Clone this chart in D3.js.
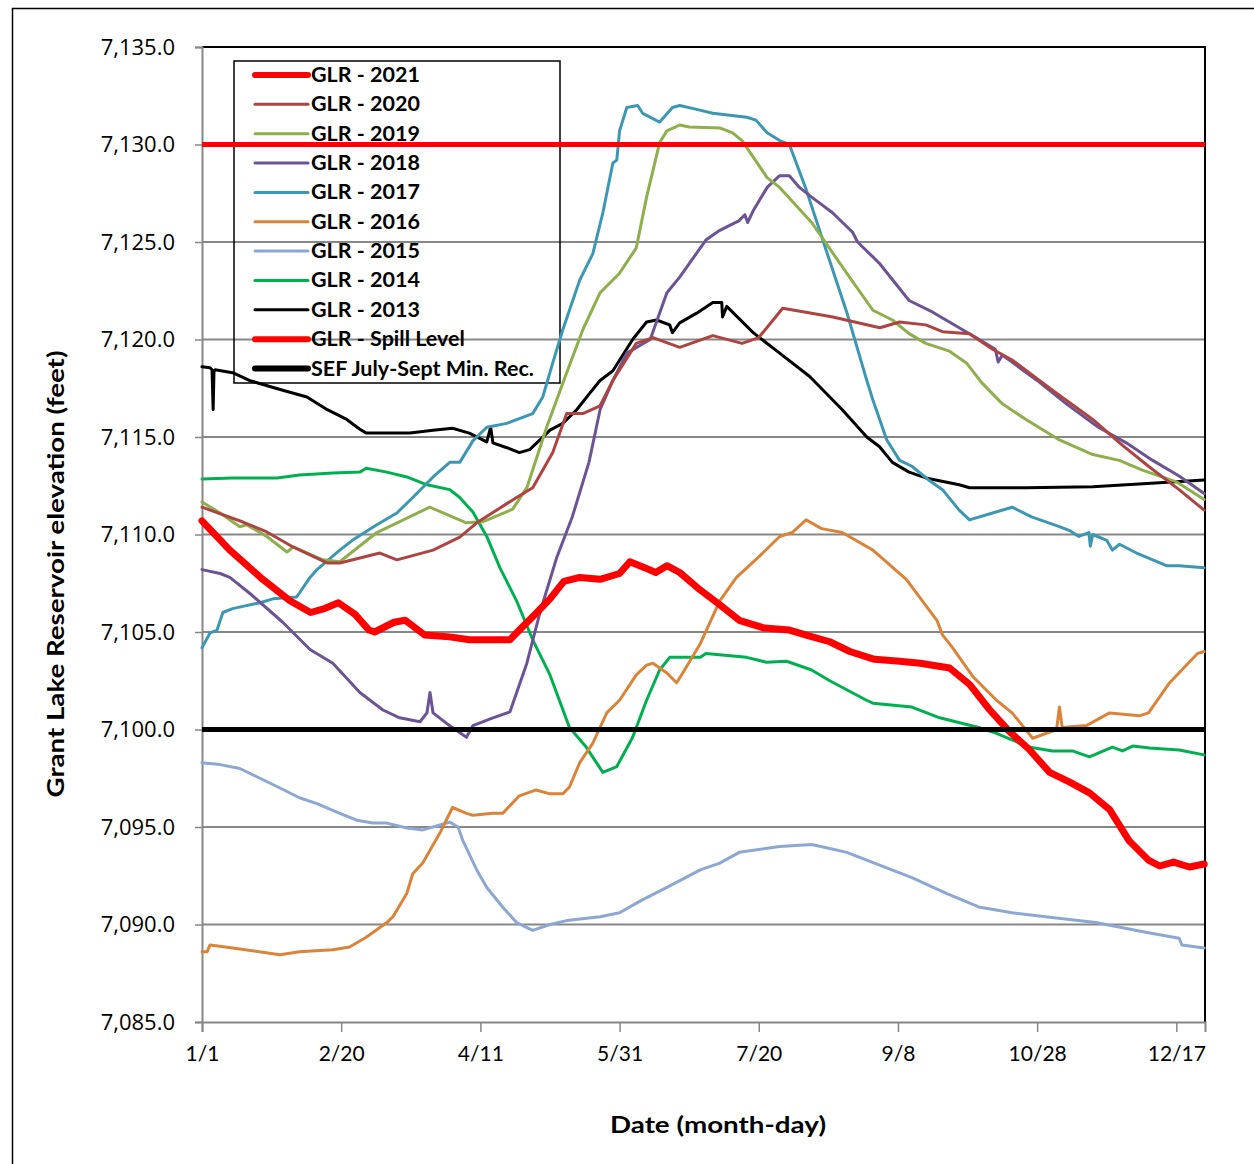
<!DOCTYPE html>
<html>
<head>
<meta charset="utf-8">
<script src="https://cdn.jsdelivr.net/npm/d3@7"></script>
<style>
  body { margin: 0; background: #fff; }
  svg { display: block; }
</style>
</head>
<body>
<svg id="chart" width="1254" height="1164"></svg>
<script>
'use strict';

// day of year (1/1 = 0) and lake elevation in feet
var glr2021 = [[0,7110.7],[10,7109.2],[21,7107.8],[31.6,7106.6],[39,7106.0],[44,7106.2],[49,7106.5],[55,7105.9],[60,7105.1],[62,7105.0],[69,7105.5],[73,7105.6],[80,7104.85],[89,7104.75],[96,7104.6],[103,7104.6],[110.6,7104.6],[114,7105.1],[119.6,7105.9],[125,7106.7],[130,7107.6],[135.7,7107.8],[143,7107.7],[150,7108.0],[153.7,7108.6],[159,7108.3],[163,7108.05],[167,7108.4],[171.6,7108.05],[179,7107.15],[186,7106.4],[193,7105.6],[202,7105.2],[211,7105.1],[218,7104.8],[225.5,7104.5],[232.7,7104.0],[241.6,7103.6],[250.6,7103.5],[258,7103.4],[268.6,7103.15],[275.8,7102.3],[283,7101.0],[290,7099.9],[297,7099.0],[304.5,7097.8],[311.7,7097.3],[318.8,7096.75],[326,7095.9],[333,7094.3],[340,7093.3],[344,7093.0],[349,7093.2],[354.7,7092.95],[360,7093.1]];

var glr2020 = [[0,7111.4],[14.7,7110.64],[23.3,7110.13],[32.7,7109.36],[44.9,7108.54],[49.5,7108.54],[63.9,7109.05],[70,7108.7],[83,7109.2],[92.6,7109.87],[98.7,7110.6],[113,7111.9],[118.8,7112.4],[126,7114.2],[131,7116.2],[136.8,7116.2],[143,7116.6],[147.6,7117.9],[156,7119.8],[162,7120.1],[171.6,7119.6],[183.5,7120.2],[194,7119.8],[200,7120.1],[208.6,7121.6],[219,7121.35],[226.6,7121.15],[243.5,7120.6],[250.6,7120.9],[260,7120.75],[266,7120.4],[275.7,7120.3],[284,7119.5],[291,7118.95],[305.5,7117.4],[320,7115.9],[329.6,7114.7],[340,7113.5],[351,7112.3],[360,7111.25]];

var glr2019 = [[0,7111.67],[6.5,7111.1],[13.6,7110.4],[16,7110.5],[23.3,7109.9],[30.5,7109.1],[32.7,7109.36],[43.4,7108.7],[49.5,7108.6],[62.8,7110.1],[81.8,7111.4],[95,7110.6],[100.8,7110.65],[111.6,7111.3],[116.7,7112.4],[123.8,7115.5],[131,7118.3],[136.8,7120.5],[143,7122.4],[150,7123.4],[156,7124.7],[159.7,7127.3],[164.4,7130.1],[167,7130.7],[171.6,7131.0],[175,7130.9],[186,7130.85],[190.6,7130.6],[194,7130.2],[203,7128.3],[207.5,7127.8],[219,7126.0],[231.6,7123.4],[241,7121.5],[248,7121.0],[254,7120.3],[260,7119.8],[268.5,7119.4],[274.6,7118.8],[280,7117.8],[287.5,7116.7],[296,7115.9],[308,7114.85],[320,7114.1],[329.5,7113.8],[337.8,7113.3],[350,7112.7],[360,7111.8]];

var glr2018 = [[0,7108.2],[6.5,7108.0],[10,7107.8],[17,7107.0],[29,7105.5],[38.8,7104.1],[47,7103.4],[56.7,7101.9],[65,7101.0],[71,7100.6],[78.3,7100.4],[80.8,7100.85],[81.9,7101.9],[83,7100.85],[88,7100.3],[95,7099.6],[97.3,7100.2],[104.5,7100.6],[110.6,7100.9],[116.7,7103.4],[121.4,7106.0],[127.5,7108.85],[133,7110.9],[139,7113.7],[143,7116.4],[147.6,7117.9],[152.6,7119.3],[161,7120.0],[167,7122.4],[171.6,7123.2],[181,7125.1],[186,7125.6],[193,7126.1],[195,7126.4],[196,7126.0],[198,7126.6],[203,7127.8],[207.5,7128.4],[211,7128.4],[214.6,7127.8],[219,7127.3],[226.5,7126.5],[233.7,7125.5],[235.5,7125.0],[243.4,7123.9],[254,7122.0],[262.5,7121.4],[272,7120.6],[278,7120.1],[285,7119.5],[286,7118.85],[287.5,7119.2],[300,7117.9],[310.5,7116.7],[322,7115.5],[332,7114.7],[341.5,7113.8],[351,7113.0],[360,7112.1]];

var glr2017 = [[0,7104.2],[2.9,7104.95],[5.4,7105.1],[7.5,7106.0],[11,7106.2],[20.8,7106.5],[25.5,7106.7],[34,7106.8],[35,7107.0],[38.8,7107.8],[41.3,7108.2],[49.5,7109.2],[54,7109.7],[62.8,7110.5],[70,7111.1],[75.7,7111.9],[83,7112.95],[89,7113.7],[92.6,7113.7],[97.3,7114.8],[102.3,7115.5],[109.5,7115.7],[118.8,7116.2],[122.4,7117.05],[126,7118.8],[129.6,7120.5],[135.7,7123.05],[140.4,7124.4],[144,7126.5],[147.6,7129.05],[149,7129.2],[150,7130.7],[152.6,7131.9],[156.5,7132.0],[158.3,7131.6],[164.4,7131.15],[169,7131.9],[171.6,7132.0],[177.7,7131.8],[183.5,7131.6],[189.6,7131.5],[195.7,7131.4],[199,7131.25],[203,7130.6],[207.5,7130.2],[211,7130.0],[217,7127.7],[223,7125.1],[231.6,7121.4],[238.8,7117.9],[241,7116.9],[246,7114.85],[250.6,7113.8],[255,7113.5],[261,7112.8],[266,7112.3],[272,7111.25],[275.7,7110.75],[284,7111.1],[291,7111.4],[298,7110.9],[308,7110.4],[311.7,7110.2],[315,7109.9],[318.6,7110.1],[319.1,7109.4],[320,7110.0],[325,7109.7],[327,7109.2],[329.6,7109.5],[335.7,7109.05],[346.5,7108.4],[351,7108.4],[360,7108.3]];

var glr2016 = [[0,7088.6],[1.8,7088.6],[2.9,7088.95],[11,7088.8],[28,7088.45],[35,7088.6],[47,7088.7],[53,7088.85],[59,7089.35],[66.4,7090.1],[68.6,7090.4],[73.6,7091.6],[75.7,7092.6],[79.3,7093.15],[85.5,7094.7],[90,7096.0],[95,7095.7],[97.3,7095.6],[104.5,7095.7],[108,7095.7],[114,7096.6],[120,7096.9],[125,7096.7],[129.6,7096.7],[132,7097.05],[135.7,7098.3],[140.4,7099.3],[145.4,7100.85],[150,7101.5],[156,7102.8],[159.7,7103.3],[162,7103.4],[167,7102.9],[170.5,7102.4],[172.7,7102.9],[179,7104.4],[186,7106.6],[192,7107.8],[200,7108.85],[207.5,7109.9],[212,7110.1],[217,7110.75],[222.6,7110.3],[230,7110.1],[241,7109.2],[253,7107.7],[264,7105.6],[266,7104.85],[269.6,7104.2],[277,7102.7],[285.4,7101.5],[291,7100.85],[298.4,7099.55],[307,7100.0],[308,7101.15],[309,7100.1],[317.7,7100.2],[326,7100.85],[336.7,7100.7],[340,7100.85],[347.6,7102.4],[357.6,7103.9],[360,7104.0]];

var glr2015 = [[0,7098.3],[6.5,7098.2],[13.6,7098.0],[20.8,7097.5],[28,7097.0],[35,7096.5],[41.3,7096.2],[49.5,7095.7],[55.6,7095.35],[61.4,7095.2],[66.4,7095.2],[73.6,7094.95],[79.3,7094.85],[85.5,7095.1],[89,7095.25],[92,7095.0],[93.7,7094.3],[98.7,7092.8],[102.3,7091.9],[108,7090.9],[113,7090.1],[118.8,7089.7],[125,7090.0],[131,7090.2],[143,7090.4],[150,7090.6],[158,7091.25],[167,7091.9],[179,7092.8],[186,7093.15],[193,7093.7],[207.5,7094.0],[219,7094.1],[225.5,7093.9],[231.6,7093.7],[243.4,7093.05],[255,7092.4],[267.4,7091.6],[279,7090.9],[291,7090.6],[303,7090.4],[321,7090.1],[339,7089.6],[351,7089.3],[352,7088.95],[360,7088.8]];

var glr2014 = [[0,7112.85],[11,7112.9],[27,7112.9],[35,7113.05],[47,7113.15],[56.7,7113.2],[59,7113.4],[66.4,7113.2],[73.6,7112.95],[80.8,7112.55],[89,7112.3],[92.6,7111.9],[97.3,7111.15],[102.3,7109.9],[107,7108.3],[113,7106.6],[118.8,7104.6],[125,7102.8],[132,7100.1],[138,7099.1],[144,7097.8],[149,7098.1],[154.7,7099.6],[159.7,7101.5],[164.4,7103.05],[168,7103.7],[179,7103.7],[181,7103.9],[195.6,7103.7],[202.8,7103.45],[210,7103.5],[219,7103.05],[225.5,7102.5],[238.7,7101.5],[241,7101.35],[255,7101.15],[265,7100.6],[279,7100.1],[285.4,7099.8],[297,7099.1],[305.5,7098.9],[312.7,7098.9],[318.8,7098.6],[327,7099.1],[330.7,7098.9],[334.3,7099.15],[340.4,7099.05],[351,7098.95],[360,7098.7]];

var glr2013 = [[0,7118.6],[2.9,7118.55],[3.6,7118.45],[4,7116.4],[4.3,7118.35],[4.7,7118.45],[11,7118.3],[17,7117.9],[29,7117.4],[37.7,7117.05],[45,7116.4],[52,7115.9],[56.7,7115.4],[59,7115.2],[74.7,7115.2],[83,7115.35],[90,7115.45],[96,7115.2],[102.3,7114.75],[103.7,7115.5],[104.5,7114.7],[109.5,7114.45],[114,7114.2],[117.7,7114.35],[121.4,7114.85],[125,7115.35],[129.6,7115.7],[134.6,7116.4],[139.3,7117.25],[143,7117.9],[147.6,7118.4],[154.7,7120.0],[159.7,7120.9],[163.3,7121.0],[168,7120.75],[169,7120.35],[171.6,7120.85],[177.7,7121.35],[183.5,7121.9],[186.7,7121.9],[187,7121.15],[188.5,7121.7],[198,7120.35],[207.5,7119.3],[218.3,7118.1],[230,7116.4],[238.8,7115.0],[243.4,7114.5],[248,7113.7],[254,7113.2],[260,7112.9],[272,7112.55],[275.7,7112.4],[296,7112.4],[320,7112.45],[332,7112.55],[344,7112.65],[360,7112.8]];

var spillLevel = 7130;
var sefMinRec = 7100;

var seriesNames = ["GLR - 2021", "GLR - 2020", "GLR - 2019", "GLR - 2018", "GLR - 2017",
  "GLR - 2016", "GLR - 2015", "GLR - 2014", "GLR - 2013", "GLR - Spill Level", "SEF July-Sept Min. Rec."];
var seriesColors = ["#ff0000", "#ad4441", "#8eaf4b", "#6c5494", "#3c98b2",
  "#da843a", "#8ca8d2", "#00b050", "#000000", "#ff0000", "#000000"];
var seriesWidths = [7, 3, 3, 3, 3, 3, 3, 3, 3, 5, 5];

var xTickDays = [0, 50, 100, 150, 200, 250, 300, 350];
var xTickLabels = ["1/1", "2/20", "4/11", "5/31", "7/20", "9/8", "10/28", "12/17"];
var yTicks = [7085, 7090, 7095, 7100, 7105, 7110, 7115, 7120, 7125, 7130, 7135];

var margin = {left: 202, right: 1205, top: 47, bottom: 1022};
var gray = "#878787";

var svg = d3.select("#chart");

// outer frame
svg.append("rect")
  .attr("x", 12.5).attr("y", 8.5)
  .attr("width", 1260).attr("height", 1180)
  .attr("fill", "none").attr("stroke", "#000").attr("stroke-width", 1.5);

var x = d3.scaleLinear().domain([0, 360.3]).range([margin.left, margin.right]);
var y = d3.scaleLinear().domain([7085, 7135]).range([margin.bottom, margin.top]);

function legendY(i) { return 75 + i * 29.35; }

// legend box and labels sit underneath the gridlines
var legend = svg.append("g");
legend.append("rect")
  .attr("x", 234).attr("y", 61).attr("width", 326).attr("height", 322)
  .attr("fill", "none").attr("stroke", "#000").attr("stroke-width", 1.5);

seriesNames.forEach(function(name, i) {
  legend.append("text")
    .attr("x", 311).attr("y", legendY(i) + 7)
    .attr("font-family", "Lato, sans-serif").attr("font-weight", "bold")
    .attr("font-size", 21.5).attr("fill", "#000")
    .text(name);
});

// gridlines
svg.append("g").selectAll("line")
  .data(yTicks.filter(function(t) { return t > 7085 && t < 7135; }))
  .enter().append("line")
    .attr("x1", margin.left).attr("x2", margin.right)
    .attr("y1", function(d) { return y(d); }).attr("y2", function(d) { return y(d); })
    .attr("stroke", gray).attr("stroke-width", 2);

// legend line samples
seriesNames.forEach(function(name, i) {
  var ly = legendY(i);
  legend.append("line")
    .attr("x1", 255).attr("x2", 308).attr("y1", ly).attr("y2", ly)
    .attr("stroke", seriesColors[i])
    .attr("stroke-width", i === 0 || i >= 9 ? 6 : 3)
    .attr("stroke-linecap", "round");
});
legend.raise();

// plot frame: black top and right, gray axes
svg.append("line").attr("x1", margin.left).attr("x2", margin.right + 1)
  .attr("y1", margin.top).attr("y2", margin.top)
  .attr("stroke", "#000").attr("stroke-width", 2);
svg.append("line").attr("x1", margin.right).attr("x2", margin.right)
  .attr("y1", margin.top).attr("y2", margin.bottom)
  .attr("stroke", "#000").attr("stroke-width", 2);

var yAxis = svg.append("g")
  .attr("transform", "translate(" + margin.left + ",0)")
  .call(d3.axisLeft(y).tickValues(yTicks).tickSize(7).tickPadding(20)
    .tickFormat(function(d) { return d3.format(",.1f")(d); }));
yAxis.select(".domain").attr("stroke", gray).attr("stroke-width", 2);
yAxis.selectAll(".tick line").attr("stroke", gray).attr("stroke-width", 1.5);
yAxis.selectAll("text")
  .attr("font-family", "'Open Sans', sans-serif")
  .attr("font-size", 22).attr("fill", "#000");

var xAxis = svg.append("g")
  .attr("transform", "translate(0," + margin.bottom + ")")
  .call(d3.axisBottom(x).tickValues(xTickDays).tickSize(10).tickPadding(14)
    .tickFormat(function(d, i) { return xTickLabels[i]; }));
xAxis.select(".domain").attr("stroke", gray).attr("stroke-width", 2);
xAxis.selectAll(".tick line").attr("stroke", gray).attr("stroke-width", 1.5);
xAxis.selectAll("text")
  .attr("font-family", "Lato, sans-serif")
  .attr("font-size", 21).attr("fill", "#000");

// axis titles
svg.append("text")
  .attr("transform", "translate(64,574) rotate(-90)")
  .attr("text-anchor", "middle")
  .attr("font-family", "Lato, sans-serif").attr("font-weight", "bold")
  .attr("font-size", 23)
  .attr("textLength", 447).attr("lengthAdjust", "spacingAndGlyphs")
  .text("Grant Lake Reservoir elevation (feet)");

svg.append("text")
  .attr("x", 718).attr("y", 1133)
  .attr("text-anchor", "middle")
  .attr("font-family", "Lato, sans-serif").attr("font-weight", "bold")
  .attr("font-size", 23)
  .attr("textLength", 216).attr("lengthAdjust", "spacingAndGlyphs")
  .text("Date (month-day)");

// series lines
var line = d3.line()
  .x(function(d) { return x(d[0]); })
  .y(function(d) { return y(d[1]); });

var yearSeries = [glr2021, glr2020, glr2019, glr2018, glr2017, glr2016, glr2015, glr2014, glr2013];
var lines = svg.append("g").attr("fill", "none")
  .attr("stroke-linejoin", "round").attr("stroke-linecap", "round");

// draw older years first, 2021 on top
for (var i = yearSeries.length - 1; i >= 0; i--) {
  lines.append("path")
    .datum(yearSeries[i])
    .attr("d", line)
    .attr("stroke", seriesColors[i])
    .attr("stroke-width", seriesWidths[i]);
}

// reference levels
[[spillLevel, 9], [sefMinRec, 10]].forEach(function(r) {
  lines.append("path")
    .datum([[0, r[0]], [360.3, r[0]]])
    .attr("d", line)
    .attr("stroke", seriesColors[r[1]])
    .attr("stroke-linecap", "butt")
    .attr("stroke-width", seriesWidths[r[1]]);
});
</script>
</body>
</html>
